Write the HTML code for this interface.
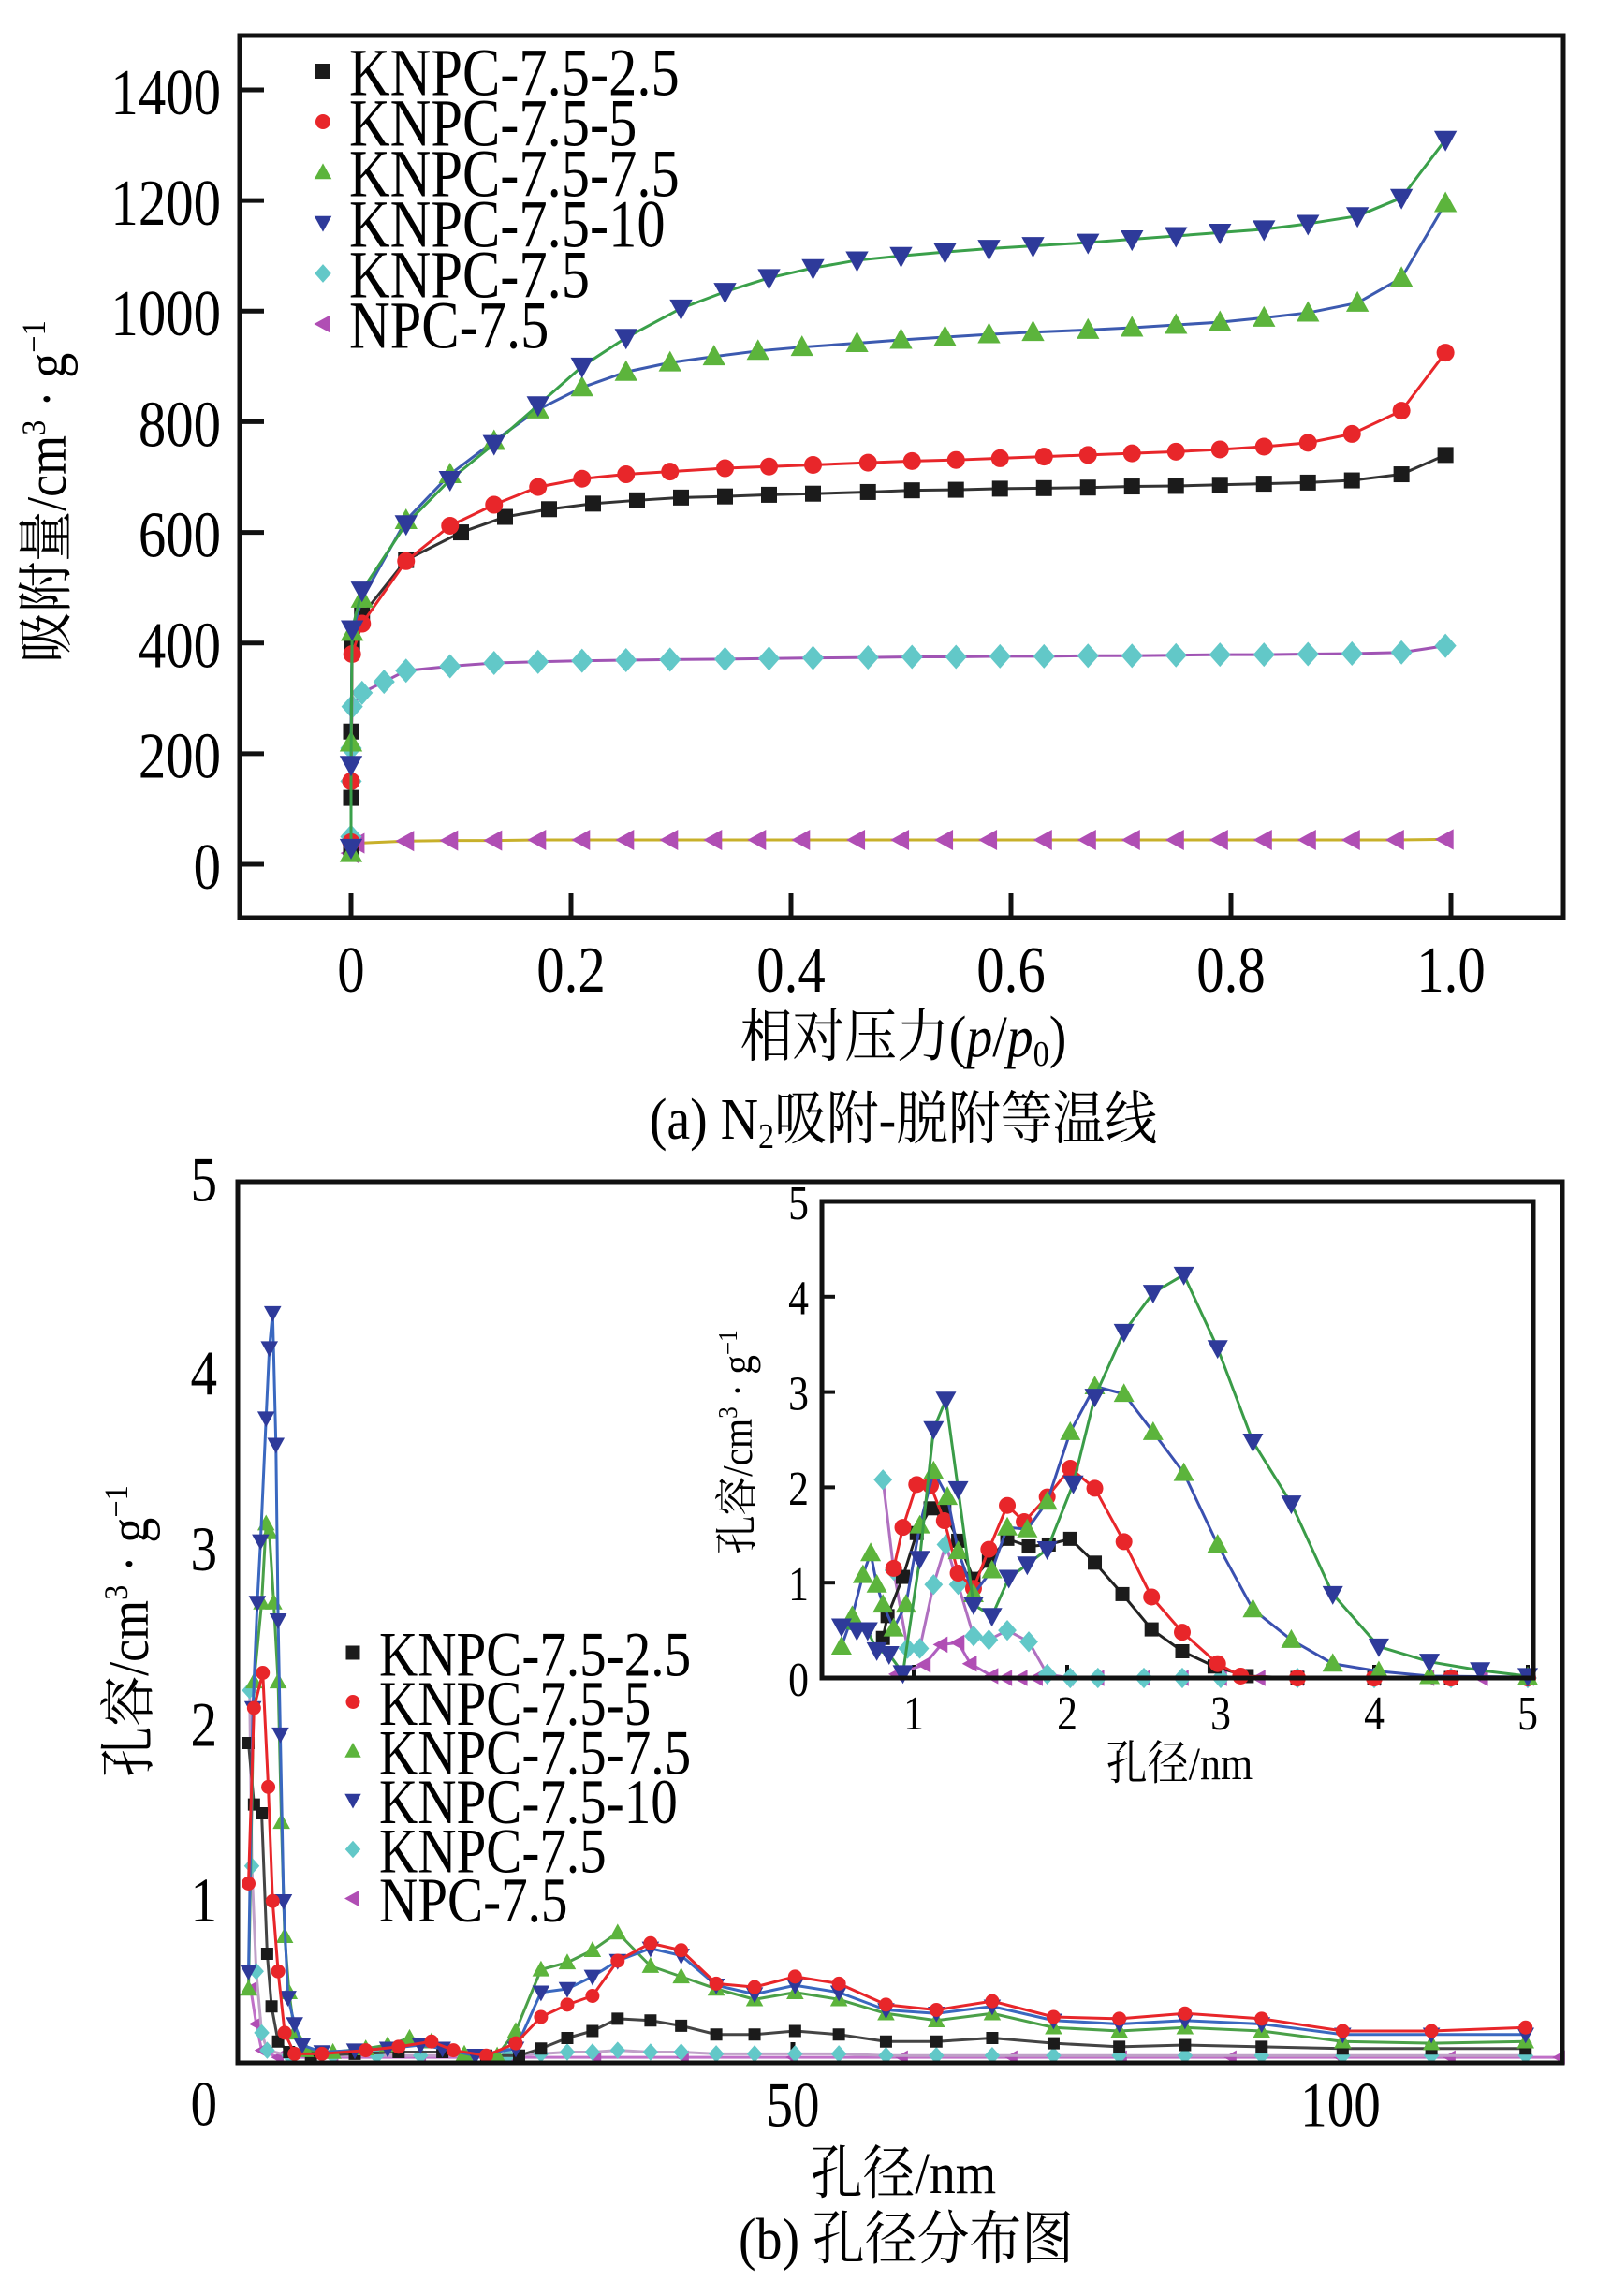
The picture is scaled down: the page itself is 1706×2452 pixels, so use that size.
<!DOCTYPE html>
<html><head><meta charset="utf-8"><style>
html,body{margin:0;padding:0;background:#fff;}
svg{display:block;font-family:"Liberation Serif","Noto Serif CJK SC","Noto Sans CJK SC",serif;}
</style></head><body>
<svg id="fig" width="1706" height="2452" viewBox="0 0 1706 2452" xmlns="http://www.w3.org/2000/svg">
<rect width="1706" height="2452" fill="#fff"/>
<g id="top"></g>
<g id="bot"></g>
<g id="ins"></g>
<text font-size="60" text-anchor="middle" transform="translate(70 525) rotate(-90) scale(0.9 1)">吸附量/cm<tspan font-size="36" dy="-22">3</tspan><tspan dy="22"> · g</tspan><tspan font-size="36" dy="-22">−1</tspan></text>
<text font-size="62" text-anchor="middle" transform="translate(965 1128) scale(0.9 1)">相对压力(<tspan font-style="italic">p</tspan>/<tspan font-style="italic">p</tspan><tspan font-size="38" dy="10">0</tspan><tspan dy="-10">)</tspan></text>
<text font-size="62" text-anchor="middle" transform="translate(965 1216) scale(0.9 1)">(a) N<tspan font-size="38" dy="10">2</tspan><tspan dy="-10">吸附-脱附等温线</tspan></text>
<text font-size="60" text-anchor="middle" transform="translate(158 1742) rotate(-90) scale(0.9 1)">孔容/cm<tspan font-size="36" dy="-22">3</tspan><tspan dy="22"> · g</tspan><tspan font-size="36" dy="-22">−1</tspan></text>
<text font-size="62" text-anchor="middle" transform="translate(965 2342) scale(0.9 1)">孔径/nm</text>
<text font-size="62" text-anchor="middle" transform="translate(968 2412) scale(0.9 1)">(b) 孔径分布图</text>
<text font-size="46" text-anchor="middle" transform="translate(803 1540) rotate(-90) scale(0.9 1)">孔容/cm<tspan font-size="28" dy="-16">3</tspan><tspan dy="16"> · g</tspan><tspan font-size="28" dy="-16">−1</tspan></text>
<text font-size="50" text-anchor="middle" transform="translate(1260 1900) scale(0.88 1)">孔径/nm</text>
</svg>
<script>
// ===== Top chart data (p/p0, adsorbed volume) =====
const topNames = ["KNPC-7.5-2.5","KNPC-7.5-5","KNPC-7.5-7.5","KNPC-7.5-10","KNPC-7.5","NPC-7.5"];
const topBlack = [[0,30],[0,120],[0,240],[0.001,400],[0.01,450],[0.05,550],[0.1,600],[0.14,628],[0.18,642],[0.22,652],[0.26,658],[0.3,663],[0.34,665],[0.38,668],[0.42,670],[0.47,673],[0.51,676],[0.55,677],[0.59,679],[0.63,680],[0.67,681],[0.71,683],[0.75,684],[0.79,686],[0.83,688],[0.87,690],[0.91,694],[0.955,705],[0.995,740]];
const topRed = [[0,40],[0,150],[0.001,380],[0.01,435],[0.05,548],[0.09,612],[0.13,650],[0.17,682],[0.21,697],[0.25,705],[0.29,710],[0.34,716],[0.38,719],[0.42,722],[0.47,726],[0.51,729],[0.55,731],[0.59,734],[0.63,737],[0.67,740],[0.71,743],[0.75,746],[0.79,750],[0.83,755],[0.87,762],[0.91,778],[0.955,820],[0.995,925]];
const topGreen = [[0,20],[0,220],[0.001,420],[0.01,480],[0.05,622],[0.09,705],[0.13,765],[0.17,822],[0.21,862],[0.25,890],[0.29,907],[0.33,918],[0.37,928],[0.41,935],[0.46,942],[0.5,948],[0.54,953],[0.58,958],[0.62,962],[0.67,966],[0.71,970],[0.75,975],[0.79,980],[0.83,988],[0.87,997],[0.915,1015],[0.955,1060],[0.995,1195]];
const topBlue = [[0,30],[0,180],[0.001,425],[0.01,495],[0.05,615],[0.09,695],[0.13,760],[0.17,830],[0.21,900],[0.25,952],[0.3,1005],[0.34,1035],[0.38,1060],[0.42,1078],[0.46,1092],[0.5,1100],[0.54,1107],[0.58,1113],[0.62,1118],[0.67,1124],[0.71,1130],[0.75,1136],[0.79,1142],[0.83,1148],[0.87,1158],[0.915,1172],[0.955,1205],[0.995,1310]];
const topCyan = [[0,50],[0,150],[0,210],[0.001,285],[0.01,310],[0.03,330],[0.05,350],[0.09,358],[0.13,364],[0.17,366],[0.21,368],[0.25,369],[0.29,370],[0.34,371],[0.38,372],[0.42,373],[0.47,374],[0.51,375],[0.55,375],[0.59,376],[0.63,376],[0.67,377],[0.71,377],[0.75,378],[0.79,379],[0.83,379],[0.87,380],[0.91,381],[0.955,383],[0.995,395]];
const topPurple = [[0,20],[0.005,38],[0.05,42],[0.09,43],[0.13,43],[0.17,44],[0.21,44],[0.25,44],[0.29,44],[0.33,44],[0.37,44],[0.41,44],[0.46,44],[0.5,44],[0.54,44],[0.58,44],[0.63,44],[0.67,44],[0.71,44],[0.75,44],[0.79,44],[0.83,44],[0.87,44],[0.91,44],[0.95,44],[0.995,45]];
const topXTicks = [0,0.2,0.4,0.6,0.8,1.0];
const topXLabels = ["0","0.2","0.4","0.6","0.8","1.0"];
const topYTicks = [0,200,400,600,800,1000,1200,1400];

// ===== Bottom chart data (pore size nm, pore volume) =====
const botBlack = [[0.3,1.8],[0.8,1.45],[1.5,1.4],[2.0,0.6],[2.4,0.3],[3.0,0.1],[4,0.04],[6,0.02],[10,0.03],[14,0.04],[18,0.04],[22,0.02],[25,0.02],[27,0.06],[29.4,0.12],[31.7,0.16],[34,0.23],[37,0.22],[39.8,0.19],[43,0.14],[46.5,0.14],[50.2,0.16],[54.2,0.14],[58.5,0.1],[63.1,0.1],[68.2,0.12],[73.8,0.09],[79.8,0.07],[85.8,0.08],[92.8,0.07],[100.2,0.06],[108.3,0.06],[116.9,0.06]];
const botRed = [[0.3,1.0],[0.8,2.0],[1.6,2.2],[2.1,1.55],[2.5,0.9],[3.0,0.5],[3.6,0.15],[4.5,0.03],[7,0.03],[11,0.05],[14,0.07],[17,0.1],[19,0.05],[22,0.02],[24.7,0.09],[27,0.24],[29.4,0.31],[31.7,0.36],[34,0.56],[37,0.66],[39.8,0.62],[43,0.43],[46.5,0.41],[50.2,0.47],[54.2,0.43],[58.5,0.31],[63.1,0.28],[68.2,0.33],[73.8,0.24],[79.8,0.23],[85.8,0.26],[92.8,0.23],[100.2,0.16],[108.3,0.16],[116.9,0.18]];
const botGreen = [[0.3,0.4],[0.8,2.15],[1.5,2.6],[1.9,3.05],[2.2,3.0],[2.6,2.6],[3.0,2.15],[3.3,1.35],[3.6,0.7],[4.0,0.38],[4.5,0.15],[5.5,0.05],[8,0.04],[11,0.06],[13,0.08],[15,0.12],[17,0.1],[20,0.03],[23,0.02],[24.7,0.16],[27,0.51],[29.4,0.55],[31.7,0.62],[34,0.72],[37,0.53],[39.8,0.47],[43,0.4],[46.5,0.34],[50.2,0.38],[54.2,0.34],[58.5,0.26],[63.1,0.22],[68.2,0.26],[73.8,0.18],[79.8,0.16],[85.8,0.18],[92.8,0.16],[100.2,0.1],[108.3,0.09],[116.9,0.1]];
const botBlue = [[0.3,0.5],[0.7,2.0],[1.1,2.6],[1.4,2.95],[1.9,3.65],[2.2,4.05],[2.5,4.25],[2.8,3.5],[3.0,2.5],[3.2,1.85],[3.5,0.9],[3.9,0.35],[4.5,0.2],[5.2,0.08],[7,0.04],[10,0.05],[13,0.06],[16,0.08],[18,0.06],[21,0.02],[24.7,0.06],[27,0.38],[29.4,0.4],[31.7,0.47],[34,0.56],[37,0.63],[39.8,0.59],[43,0.42],[46.5,0.37],[50.2,0.42],[54.2,0.38],[58.5,0.28],[63.1,0.26],[68.2,0.3],[73.8,0.22],[79.8,0.2],[85.8,0.22],[92.8,0.2],[100.2,0.14],[108.3,0.14],[116.9,0.14]];
const botCyan = [[0.4,2.1],[0.6,1.1],[1.0,0.5],[1.5,0.15],[2.0,0.05],[4,0.02],[8,0.02],[12,0.02],[16,0.02],[20,0.02],[24,0.02],[27,0.03],[29.4,0.04],[31.7,0.04],[34,0.05],[37,0.04],[39.8,0.04],[43,0.03],[46.5,0.03],[50.2,0.03],[54.2,0.03],[58.5,0.02],[63.1,0.02],[68.2,0.02],[73.8,0.02],[79.8,0.02],[85.8,0.02],[92.8,0.02],[100.2,0.02],[108.3,0.02],[116.9,0.02]];
const botPurple = [[0.5,0.4],[1.0,0.2],[1.5,0.05],[3,0.01],[8,0.01],[16,0.01],[24,0.01],[32,0.01],[40,0.01],[50,0.01],[60,0.01],[70,0.01],[80,0.01],[90,0.01],[100,0.01],[110,0.01],[120,0.01]];
const botXTicks = [50,100];
const botYLabels = ["1","2","3","4"];

// ===== Inset data =====
const insBlack = [[0.8,0.42],[0.83,0.65],[0.93,1.06],[1.02,1.52],[1.11,1.78],[1.2,1.75],[1.29,1.44],[1.39,1.04],[1.49,1.23],[1.61,1.46],[1.75,1.38],[1.88,1.4],[2.02,1.46],[2.18,1.21],[2.36,0.88],[2.55,0.51],[2.75,0.28],[2.96,0.12],[3.17,0.02],[3.5,0],[4,0],[4.5,0],[5,0]];
const insRed = [[0.87,1.15],[0.93,1.58],[1.02,2.03],[1.11,2.02],[1.2,1.65],[1.29,1.1],[1.39,0.94],[1.49,1.35],[1.61,1.81],[1.72,1.64],[1.87,1.9],[2.02,2.2],[2.18,1.99],[2.37,1.43],[2.55,0.85],[2.75,0.48],[2.98,0.15],[3.13,0.02],[3.5,0],[4,0],[4.5,0],[5,0]];
const insGreen = [[0.53,0.33],[0.6,0.65],[0.67,1.08],[0.72,1.31],[0.76,0.98],[0.8,0.77],[0.87,0.52],[0.95,0.77],[1.04,1.6],[1.13,2.17],[1.22,1.9],[1.29,1.33],[1.39,0.88],[1.51,1.13],[1.61,1.58],[1.74,1.56],[1.87,1.85],[2.02,2.58],[2.18,3.06],[2.37,2.98],[2.56,2.58],[2.76,2.15],[2.98,1.4],[3.21,0.72],[3.46,0.4],[3.73,0.15],[4.03,0.07],[4.36,0.02],[5,0.01]];
const insBlue = [[0.53,0.54],[0.63,0.5],[0.7,0.5],[0.76,0.29],[0.84,0.25],[0.93,0.05],[1.04,1.25],[1.13,2.61],[1.21,2.92],[1.29,1.98],[1.39,0.77],[1.51,0.65],[1.62,1.05],[1.74,1.19],[1.87,1.35],[2.04,2.04],[2.18,2.95],[2.37,3.63],[2.56,4.04],[2.76,4.23],[2.98,3.46],[3.21,2.48],[3.46,1.83],[3.73,0.88],[4.03,0.33],[4.36,0.17],[4.69,0.08],[5.0,0.02]];
const insCyan = [[0.8,2.08],[0.87,1.13],[0.96,0.31],[1.04,0.31],[1.13,0.98],[1.21,1.4],[1.29,0.98],[1.39,0.44],[1.49,0.4],[1.61,0.5],[1.75,0.38],[1.87,0.04],[2.02,0],[2.2,0],[2.5,0],[2.75,0],[3,0],[3.5,0],[4,0],[4.5,0],[5,0]];
const insPurple = [[0.89,0.04],[1.07,0.14],[1.18,0.35],[1.29,0.37],[1.37,0.15],[1.51,0.02],[1.6,0],[1.7,0],[1.8,0],[2.0,0],[2.2,0],[2.5,0],[2.75,0],[3,0],[3.25,0],[3.5,0],[4,0],[4.35,0],[4.7,0],[5,0]];
const insXTicks = [1,2,3,4,5];
const insYTicks = [0,1,2,3,4,5];

const NS="http://www.w3.org/2000/svg";
function mk(parent,tag,attrs){const e=document.createElementNS(NS,tag);for(const k in attrs)e.setAttribute(k,attrs[k]);parent.appendChild(e);return e;}
const COL={black:"#1b1b1b",red:"#e8262a",green:"#5cb43c",blue:"#2e3a9a",cyan:"#62c8c8",purple:"#b04eb4"};
function marker(g,shape,cx,cy,s,fill){
  let e;
  if(shape==="sq") e=mk(g,"rect",{x:cx-s/2,y:cy-s/2,width:s,height:s,fill:fill});
  else if(shape==="ci") e=mk(g,"circle",{cx:cx,cy:cy,r:s/2,fill:fill});
  else if(shape==="up") e=mk(g,"polygon",{points:`${cx},${cy-s*0.6} ${cx+s*0.58},${cy+s*0.45} ${cx-s*0.58},${cy+s*0.45}`,fill:fill});
  else if(shape==="dn") e=mk(g,"polygon",{points:`${cx},${cy+s*0.6} ${cx+s*0.58},${cy-s*0.45} ${cx-s*0.58},${cy-s*0.45}`,fill:fill});
  else if(shape==="di") e=mk(g,"polygon",{points:`${cx},${cy-s*0.62} ${cx+s*0.55},${cy} ${cx},${cy+s*0.62} ${cx-s*0.55},${cy}`,fill:fill});
  else e=mk(g,"polygon",{points:`${cx-s*0.6},${cy} ${cx+s*0.45},${cy-s*0.58} ${cx+s*0.45},${cy+s*0.58}`,fill:fill});
  return e;
}
function series(g,data,xf,yf,lineCol,mCol,shape,ms,lw,name){
  const sg=mk(g,"g",{});
  
  
  const pl=mk(sg,"polyline",{points:data.map(d=>xf(d[0])+","+yf(d[1])).join(" "),fill:"none",stroke:lineCol,"stroke-width":lw,"stroke-linejoin":"round"});
  
  
  data.forEach(d=>{const m=marker(sg,shape,xf(d[0]),yf(d[1]),ms,mCol);
    
    });
}
function txt(g,x,y,s,size,anchor,name){const t=mk(g,"text",{x:0,y:0,"font-size":size,"text-anchor":anchor||"middle","dominant-baseline":"central",transform:`translate(${x} ${y}) scale(0.84 1)`});t.textContent=s;
  
  
  return t;}
function legend(g,x,y0,dy,size,ms,name){
  const items=[["sq",COL.black],["ci",COL.red],["up",COL.green],["dn",COL.blue],["di",COL.cyan],["lt",COL.purple]];
  const lg=mk(g,"g",{});
  
  
  items.forEach((it,i)=>{const y=y0+i*dy;const m=marker(lg,it[0],x,y,ms,it[1]);
    
    
    txt(lg,x+28,y+2,topNames[i],size,"start",'legend-entry');});
}

// ===== Top chart =====
(function(){
  const g=document.getElementById("top");
  const L=256,T=38,R=1670,B=980;
  const xf=v=>375+v*1175, yf=v=>923-v*(827/1400);
  topYTicks.forEach(v=>{const l=mk(g,"line",{x1:L,x2:L+26,y1:yf(v),y2:yf(v),stroke:"#111","stroke-width":5});
    
    txt(g,236,yf(v)+2,String(v),70,"end",'y-tick-label');});
  topXTicks.forEach((v,i)=>{const l=mk(g,"line",{x1:xf(v),x2:xf(v),y1:B,y2:B-26,stroke:"#111","stroke-width":5});
    
    txt(g,xf(v),1035,topXLabels[i],70,"middle",'x-tick-label');});
  series(g,topPurple,xf,yf,"#c8b02a",COL.purple,"lt",19,3,"series-npc-7-5");
  series(g,topCyan,xf,yf,"#a054b4",COL.cyan,"di",21,3,"series-knpc-7-5");
  series(g,topBlack,xf,yf,"#333",COL.black,"sq",17,3,"series-knpc-7-5-2-5");
  series(g,topRed,xf,yf,COL.red,COL.red,"ci",19,3,"series-knpc-7-5-5");
  series(g,topGreen,xf,yf,"#3c5ab0",COL.green,"up",21,3,"series-knpc-7-5-7-5");
  series(g,topBlue,xf,yf,"#3aa04a",COL.blue,"dn",21,3,"series-knpc-7-5-10");
  const f=mk(g,"rect",{x:L,y:T,width:R-L,height:B-T,fill:"none",stroke:"#111","stroke-width":5});
  
  legend(g,345,76,54,72,16,'legend-top');
})();

// ===== Bottom chart =====
(function(){
  const g=document.getElementById("bot");
  const L=254,T=1262,R=1669,B=2203;
  const xf=v=>262+v*11.7, yf=v=>2199-v*187.5;
  txt(g,232,1260,"5",68,"end",'y-tick-label');
  txt(g,232,2247,"0",68,"end",'y-tick-label');
  botYLabels.forEach((s,i)=>txt(g,232,yf(i+1)+18,s,68,"end",'y-tick-label'));
  botXTicks.forEach(v=>{const l=mk(g,"line",{x1:xf(v),x2:xf(v),y1:B,y2:B-22,stroke:"#111","stroke-width":5});
    
    txt(g,xf(v),2248,String(v),68,"middle",'x-tick-label');});
  series(g,botPurple,xf,yf,"#c070c8",COL.purple,"lt",13,3,"series-npc-7-5");
  series(g,botCyan,xf,yf,"#c0a0c8",COL.cyan,"di",15,3,"series-knpc-7-5");
  series(g,botBlack,xf,yf,"#444",COL.black,"sq",13,3,"series-knpc-7-5-2-5");
  series(g,botGreen,xf,yf,"#4aa048",COL.green,"up",16,3,"series-knpc-7-5-7-5");
  series(g,botBlue,xf,yf,"#3a68c0",COL.blue,"dn",16,3,"series-knpc-7-5-10");
  series(g,botRed,xf,yf,COL.red,COL.red,"ci",15,3,"series-knpc-7-5-5");
  const f=mk(g,"rect",{x:L,y:T,width:R-L,height:B-T,fill:"none",stroke:"#111","stroke-width":5});
  
  legend(g,377,1765,52.5,68,15,'legend-bottom');
})();

// ===== Inset =====
(function(){
  const g=document.getElementById("ins");
  const L=878,T=1283,R=1638,B=1792;
  const xf=v=>812+v*164, yf=v=>1792-v*101.8;
  mk(g,"rect",{x:L,y:T,width:R-L,height:B-T,fill:"#fff"});
  insYTicks.forEach(v=>{const l=mk(g,"line",{x1:L,x2:L+14,y1:yf(v),y2:yf(v),stroke:"#111","stroke-width":4});
    
    txt(g,864,yf(v)+2,String(v),52,"end",'inset-y-tick-label');});
  insXTicks.forEach(v=>{const l=mk(g,"line",{x1:xf(v),x2:xf(v),y1:B,y2:B-14,stroke:"#111","stroke-width":4});
    
    txt(g,xf(v),1830,String(v),52,"middle",'inset-x-tick-label');});
  series(g,insPurple,xf,yf,"#b060c0",COL.purple,"lt",15,3,"inset-series-npc-7-5");
  series(g,insCyan,xf,yf,"#b070c0",COL.cyan,"di",18,3,"inset-series-knpc-7-5");
  series(g,insBlack,xf,yf,"#222",COL.black,"sq",15,3,"inset-series-knpc-7-5-2-5");
  series(g,insRed,xf,yf,COL.red,COL.red,"ci",18,3,"inset-series-knpc-7-5-5");
  series(g,insGreen,xf,yf,"#3a50b0",COL.green,"up",19,3,"inset-series-knpc-7-5-7-5");
  series(g,insBlue,xf,yf,"#3a9c48",COL.blue,"dn",19,3,"inset-series-knpc-7-5-10");
  const f=mk(g,"rect",{x:L,y:T,width:R-L,height:B-T,fill:"none",stroke:"#111","stroke-width":5});
  
})();
</script>
</body></html>
